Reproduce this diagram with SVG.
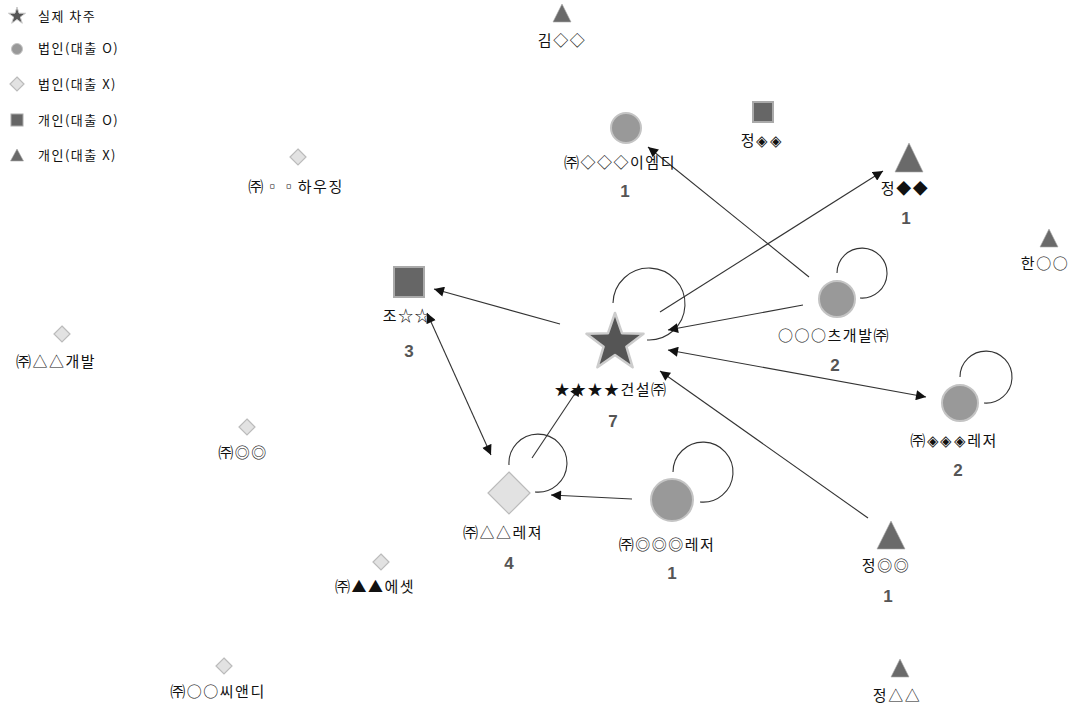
<svg xmlns="http://www.w3.org/2000/svg" width="1077" height="707" viewBox="0 0 1077 707">
<defs>
<style>
text{font-family:"Noto Sans CJK KR","Liberation Sans",sans-serif;font-size:15px;letter-spacing:1.5px;fill:#111;text-anchor:middle}
.lg{text-anchor:start;font-size:13px;letter-spacing:1.5px}
.num{font-family:"Liberation Sans","Noto Sans CJK KR",sans-serif;font-size:17px;letter-spacing:0;font-weight:bold;fill:#555}
.circ{fill:#999;stroke:#c4c4c4;stroke-width:2}
.dia{fill:#e2e2e2;stroke:#bbb;stroke-width:1.2}
.sq{fill:#666;stroke:#aaa;stroke-width:2}
.tri{fill:#6a6a6a;stroke:#aaa;stroke-width:0.6}
.star{fill:#555;stroke:#ccc;stroke-width:2.5;stroke-linejoin:round}
.e{fill:none;stroke:#333;stroke-width:1.1}
</style>
<marker id="ah" viewBox="0 0 10 10" refX="10" refY="5" markerWidth="11" markerHeight="10" markerUnits="userSpaceOnUse" orient="auto-start-reverse">
<path d="M0,0 L10,5 L0,10 z" fill="#111"/>
</marker>
</defs>
<rect width="1077" height="707" fill="#fff"/>

<g id="legend">
<polygon class="star" style="stroke-width:1" points="17,7 19.06,13.17 25.56,13.22 20.33,17.08 22.29,23.28 17,19.5 11.71,23.28 13.67,17.08 8.44,13.22 14.94,13.17"/>
<text class="lg" x="38" y="21">실제 차주</text>
<circle class="circ" style="stroke-width:1" cx="17" cy="49" r="5.5"/>
<text class="lg" x="38" y="53">법인(대출 O)</text>
<polygon class="dia" points="17,77 24,84 17,91 10,84"/>
<text class="lg" x="38" y="89">법인(대출 X)</text>
<rect class="sq" style="stroke-width:1" x="11" y="114" width="12" height="12"/>
<text class="lg" x="38" y="125">개인(대출 O)</text>
<polygon class="tri" points="17,149 23.5,161 10.5,161"/>
<text class="lg" x="38" y="160">개인(대출 X)</text>
</g>

<g id="edges">
<path class="e" d="M613,303 A36,36 0 1 1 647,340"/>
<path class="e" d="M837,273 A25,25 0 1 1 860,298"/>
<path class="e" d="M960,377 A26,26 0 1 1 984,403"/>
<path class="e" d="M509,465 A29,29 0 1 1 535,492"/>
<path class="e" d="M673,472 A30,30 0 1 1 700,502"/>
<line class="e" x1="560" y1="324" x2="434" y2="289" marker-end="url(#ah)"/>
<line class="e" x1="660" y1="312" x2="883" y2="171" marker-end="url(#ah)"/>
<line class="e" x1="803" y1="305" x2="668" y2="330" marker-end="url(#ah)"/>
<line class="e" x1="809" y1="277" x2="648" y2="147" marker-end="url(#ah)"/>
<line class="e" x1="668" y1="350" x2="926" y2="397" marker-start="url(#ah)" marker-end="url(#ah)"/>
<line class="e" x1="868" y1="518" x2="660" y2="371" marker-end="url(#ah)"/>
<line class="e" x1="632" y1="499" x2="551" y2="495" marker-end="url(#ah)"/>
<line class="e" x1="427" y1="313" x2="491" y2="455" marker-start="url(#ah)" marker-end="url(#ah)"/>
<line class="e" x1="532" y1="458" x2="580" y2="386" marker-end="url(#ah)"/>
</g>

<g id="n-kim">
<polygon class="tri" points="562,4 571,22 553,22"/>
<text x="562" y="46">김◇◇</text>
</g>
<g id="n-emd">
<circle class="circ" cx="626" cy="128" r="15"/>
<text x="620" y="168">㈜◇◇◇이엠디</text>
<text class="num" x="625" y="197">1</text>
</g>
<g id="n-jeong1">
<rect class="sq" x="753" y="102" width="20" height="20"/>
<text x="762" y="146">정◈◈</text>
</g>
<g id="n-jeong2">
<polygon class="tri" points="909,143 923,172 895,172"/>
<text x="905" y="194">정◆◆</text>
<text class="num" x="906" y="224">1</text>
</g>
<g id="n-han">
<polygon class="tri" points="1049,229 1058,247 1040,247"/>
<text x="1045" y="269">한○○</text>
</g>
<g id="n-housing">
<polygon class="dia" points="298,149 306,157 298,165 290,157"/>
<text x="296" y="192">㈜▫▫하우징</text>
</g>
<g id="n-gaebal">
<polygon class="dia" points="62,326 70,334 62,342 54,334"/>
<text x="56" y="367">㈜△△개발</text>
</g>
<g id="n-jo">
<rect class="sq" x="394" y="267" width="30" height="30"/>
<text x="407" y="321">조☆☆</text>
<text class="num" x="409" y="357">3</text>
</g>
<g id="n-star">
<polygon class="star" points="615,313 622.05,333.29 643.53,333.73 626.41,346.71 632.63,367.27 615,355 597.37,367.27 603.59,346.71 586.47,333.73 607.95,333.29"/>
<text x="611" y="395">★★★★건설㈜</text>
<text class="num" x="613" y="427">7</text>
</g>
<g id="n-cheu">
<circle class="circ" cx="837" cy="299" r="18"/>
<text x="834" y="341">○○○츠개발㈜</text>
<text class="num" x="835" y="371">2</text>
</g>
<g id="n-leisure1">
<circle class="circ" cx="960" cy="403" r="18"/>
<text x="954" y="446">㈜◈◈◈레저</text>
<text class="num" x="958" y="476">2</text>
</g>
<g id="n-oo">
<polygon class="dia" points="247,419 255,427 247,435 239,427"/>
<text x="243" y="458">㈜◎◎</text>
</g>
<g id="n-leisure2">
<polygon class="dia" points="509,472 530,493 509,514 488,493"/>
<text x="503" y="538">㈜△△레져</text>
<text class="num" x="509" y="569">4</text>
</g>
<g id="n-leisure3">
<circle class="circ" cx="672" cy="500" r="21"/>
<text x="667" y="550">㈜◎◎◎레저</text>
<text class="num" x="672" y="579">1</text>
</g>
<g id="n-asset">
<polygon class="dia" points="381,554 389,562 381,570 373,562"/>
<text x="375" y="592">㈜▲▲에셋</text>
</g>
<g id="n-cnd">
<polygon class="dia" points="224,658 232,666 224,674 216,666"/>
<text x="218" y="697">㈜○○씨앤디</text>
</g>
<g id="n-jeong3">
<polygon class="tri" points="891,521 905,549 877,549"/>
<text x="886" y="571">정◎◎</text>
<text class="num" x="888" y="602">1</text>
</g>
<g id="n-jeong4">
<polygon class="tri" points="900,659 909,677 891,677"/>
<text x="897" y="701">정△△</text>
</g>
</svg>
